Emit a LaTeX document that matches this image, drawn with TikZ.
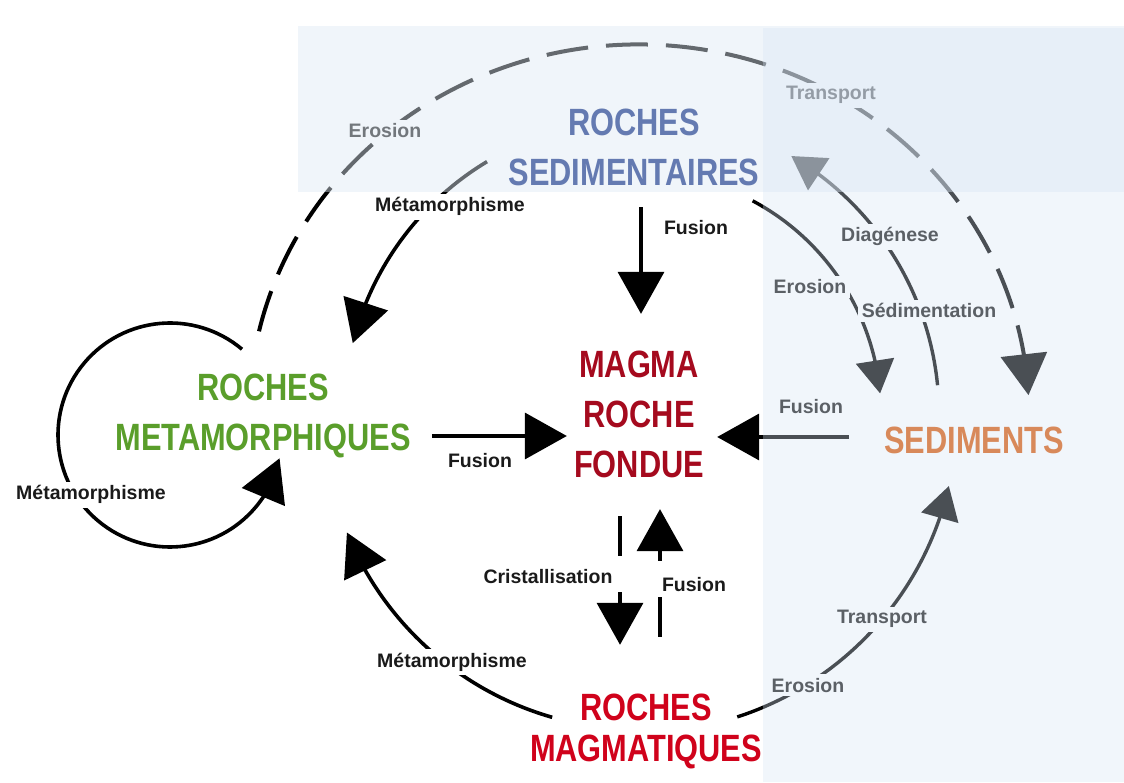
\documentclass[tikz,border=0pt]{standalone}
\usepackage{fontspec}
\setmainfont{Liberation Sans}
\newfontfamily\bigfont[FakeStretch=0.81]{Liberation Sans Bold}
\usetikzlibrary{arrows.meta,bending}
\definecolor{sedblue}{HTML}{00207A}
\definecolor{metgreen}{HTML}{5A9E2B}
\definecolor{magmared}{HTML}{A50A1E}
\definecolor{magred}{HTML}{D0021B}
\definecolor{sedorange}{HTML}{DA5A08}
\definecolor{bandblue}{HTML}{DEE9F4}
\definecolor{colblue}{HTML}{D7E5F6}
\definecolor{inkgray}{HTML}{1A1A1A}

\begin{document}
\begin{tikzpicture}[x=1pt,y=1pt,
	rock/.style={font=\bigfont\fontsize{38}{50}\selectfont,align=center,inner sep=0pt},
	lab/.style={font=\bfseries\fontsize{19.5}{22}\selectfont,text=inkgray,fill=white,inner sep=4pt,anchor=base},
	fus/.style={line width=3.6pt,-{Triangle[length=42pt,width=46pt]}},
	cyc/.style={line width=3.6pt,-{Triangle[length=42pt,width=46pt]}},
	cycs/.style={line width=3.4pt,-{Triangle[length=33pt,width=38pt]}},
	cycd/.style={line width=4pt,dash pattern=on 42pt off 18pt,-{Triangle[length=41pt,width=46pt]}},
	crossdash/.style={dash pattern=on 40pt off 36pt}]
	\fill[white] (0,0) rectangle (1124,782);
	\useasboundingbox (0,0) rectangle (1124,782);

	\node[rock,text=sedblue] (sed) at (634,634.5) {ROCHES\\SEDIMENTAIRES};
	\node[rock,text=metgreen] (met) at (263,366) {ROCHES\\METAMORPHIQUES};
	\node[rock,text=magmared] (magma) at (639,367.5) {MAGMA\\ROCHE\\FONDUE};
	\node[rock,text=sedorange] (sedim) at (974,342) {SEDIMENTS};
	\node[rock,text=magred,font=\bigfont\fontsize{38}{41}\selectfont] (mag) at (646,50.5) {ROCHES\\MAGMATIQUES};

	\draw[fus,shorten <=21pt,shorten >=37pt] ([xshift=7pt]sed.south) -- ([xshift=2pt]magma.north);
	\draw[fus,shorten <=21pt,shorten >=7pt] ([yshift=-20pt]met.east) -- ([yshift=-21.5pt]magma.west);
	\draw[fus,shorten <=35pt,shorten >=13pt] ([yshift=3pt]sedim.west) -- ([yshift=-22.5pt]magma.east);
	\draw[fus,crossdash,shorten <=38pt,shorten >=49pt] ([xshift=-19pt]magma.south) -- ([xshift=-26pt]mag.north);
	\draw[fus,crossdash,shorten <=57pt,shorten >=31pt] ([xshift=14pt]mag.north) -- ([xshift=21pt]magma.south);

	\draw[cycd] (magma.center) ++(167:390pt and 370pt) arc[start angle=167,end angle=3,x radius=390pt,y radius=370pt];
	\draw[cyc] (magma.center) ++(121:295pt) arc[start angle=121,end angle=166,radius=295pt];
	\draw[cycs] (magma.center) ++(62:242pt) arc[start angle=62,end angle=5,radius=242pt];
	\draw[cycs] (magma.center) ++(5.6:300pt) arc[start angle=5.6,end angle=59.5,radius=300pt];
	\draw[cycs] (magma.center) ++(-72:318pt) arc[start angle=-72,end angle=-13,radius=318pt];
	\draw[cyc] (magma.center) ++(254:315pt) arc[start angle=254,end angle=202,radius=315pt];
	\draw[cyc] ([shift={(-93pt,-19pt)}]met.center) ++(50:112pt) arc[start angle=50,end angle=348,radius=112pt];

	\node[lab] (eroTL) at (385,644) {Erosion};
	\node[lab] (traT) at (831,682) {Transport};
	\node[lab] (metT) at (450,570) {Métamorphisme};
	\node[lab] (fusV) at (696,547) {Fusion};
	\node[lab] (diag) at (890,540) {Diagénese};
	\node[lab] (eroR) at (810,488) {Erosion};
	\node[lab] (sedi) at (929,464) {Sédimentation};
	\node[lab] (fusR) at (811,368) {Fusion};
	\node[lab] (fusL) at (480,314) {Fusion};
	\node[lab] (metL) at (91,282) {Métamorphisme};
	\node[lab] (crist) at (548,198) {Cristallisation};
	\node[lab] (fusB) at (694,190) {Fusion};
	\node[lab] (traB) at (882,158) {Transport};
	\node[lab] (metB) at (452,115) {Métamorphisme};
	\node[lab] (eroB) at (808,90) {Erosion};

	\fill[bandblue,fill opacity=0.45] (298,590) rectangle (1124,756);
	\fill[colblue,fill opacity=0.345] (763,0) rectangle (1124,754);
\end{tikzpicture}
\end{document}
